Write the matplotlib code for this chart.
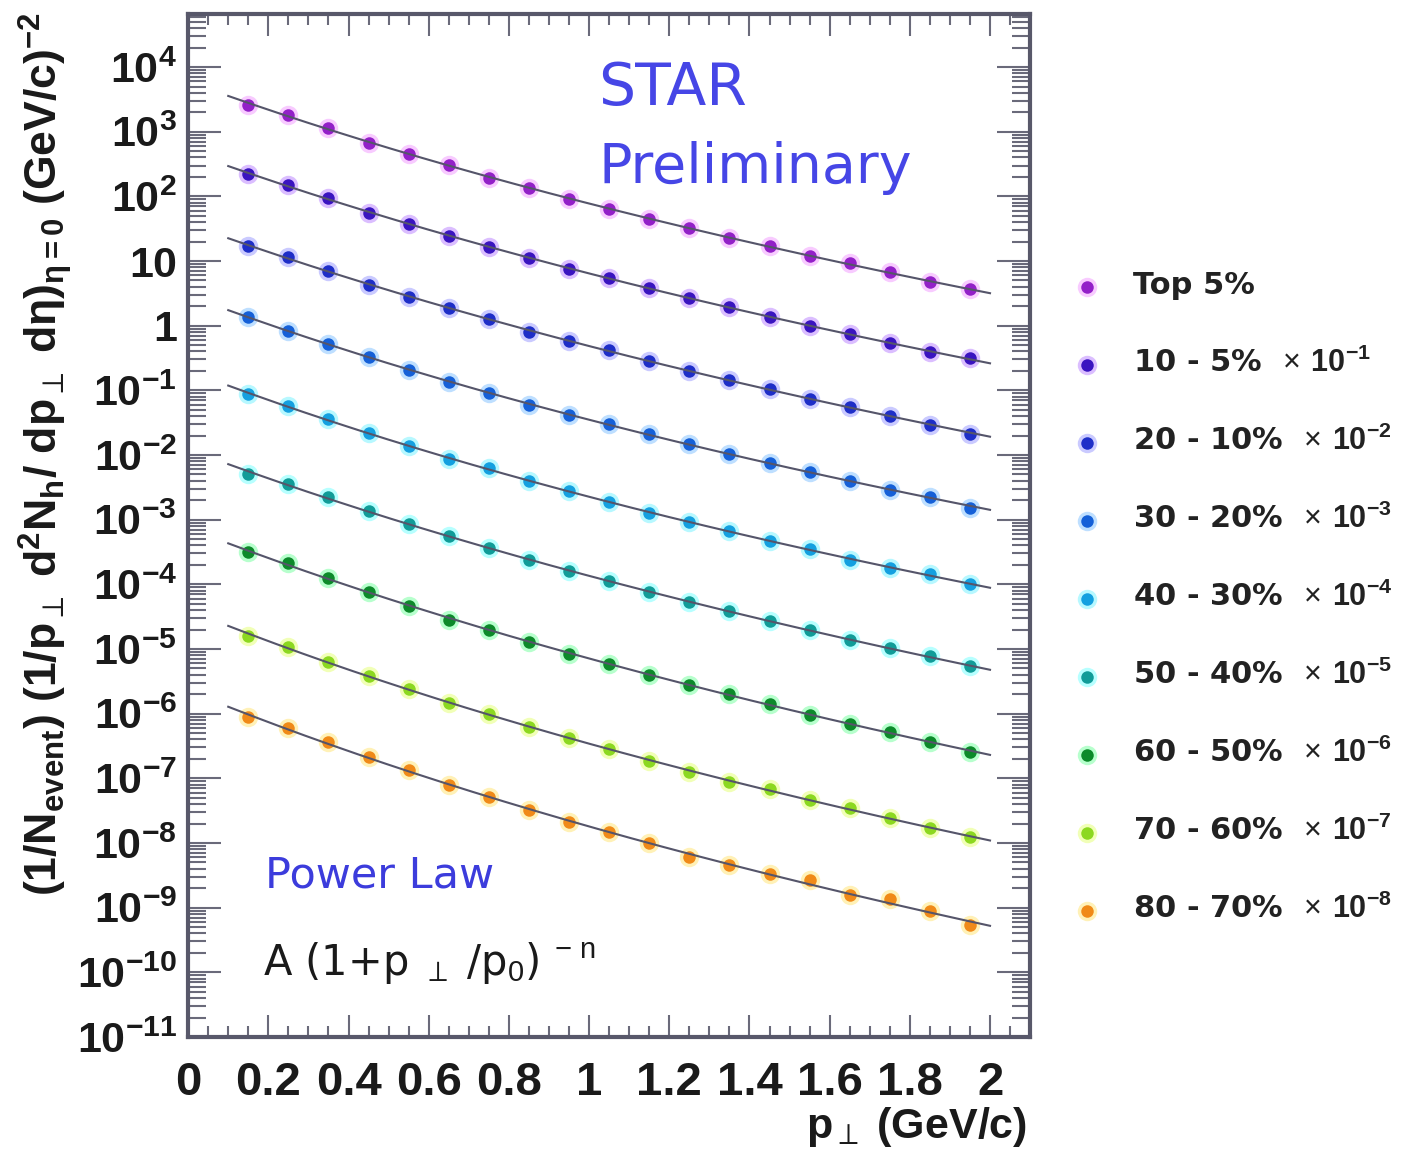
import numpy as np
import matplotlib.pyplot as plt
from matplotlib.lines import Line2D
from matplotlib.ticker import LogLocator, MultipleLocator, FuncFormatter, NullFormatter

plt.rcParams['font.family'] = ['Liberation Sans', 'DejaVu Sans']
plt.rcParams['mathtext.fontset'] = 'custom'
plt.rcParams['mathtext.rm'] = 'Liberation Sans'
plt.rcParams['mathtext.bf'] = 'Liberation Sans:bold'
plt.rcParams['mathtext.it'] = 'Liberation Sans:italic'

# transverse momentum bin centres (GeV/c)
pt = [0.15, 0.25, 0.35, 0.45, 0.55, 0.65, 0.75, 0.85, 0.95, 1.05,
      1.15, 1.25, 1.35, 1.45, 1.55, 1.65, 1.75, 1.85, 1.95]

# invariant yields per centrality class (before the display scale factor)
top5 = [2620, 1810, 1160, 680, 456, 304, 195, 134, 90.5, 63.4,
        45.0, 32.8, 22.9, 16.9, 11.9, 9.25, 6.71, 4.70, 3.66]
c10_5 = [2214, 1490, 931, 559, 373, 245, 167, 111, 75.7, 54.4,
         38.6, 27.0, 19.3, 13.6, 9.89, 7.36, 5.36, 3.90, 3.11]
c20_10 = [1713, 1141, 710, 428, 281, 187, 125, 80.7, 57.1, 41.6,
          28.4, 20.1, 14.6, 10.5, 7.47, 5.44, 4.04, 2.94, 2.14]
c30_20 = [1344, 837, 523, 323, 207, 136, 90.2, 60.1, 42.0, 29.9,
          20.9, 14.6, 10.4, 7.54, 5.49, 3.99, 2.90, 2.25, 1.54]
c40_30 = [867, 578, 361, 217, 137, 85.8, 62.2, 39.9, 27.3, 18.6,
          12.7, 9.24, 6.71, 4.60, 3.53, 2.39, 1.79, 1.45, 1.01]
c50_40 = [515, 351, 225, 135, 86.7, 55.6, 36.6, 23.9, 15.9, 11.1,
          7.52, 5.25, 3.90, 2.72, 1.95, 1.36, 1.03, 0.779, 0.545]
c60_50 = [314, 212, 126, 75.5, 47.0, 28.2, 19.4, 13.0, 8.49, 5.94,
          3.96, 2.76, 2.03, 1.42, 0.965, 0.693, 0.521, 0.365, 0.254]
c70_60 = [161, 109, 62.2, 38.8, 24.1, 14.4, 9.75, 6.16, 4.21, 2.87,
          1.87, 1.25, 0.892, 0.685, 0.463, 0.343, 0.240, 0.172, 0.125]
c80_70 = [87.6, 60.1, 35.9, 21.6, 13.4, 7.96, 5.10, 3.24, 2.13, 1.46,
          0.982, 0.611, 0.453, 0.336, 0.265, 0.155, 0.134, 0.0876, 0.0530]

series = [top5, c10_5, c20_10, c30_20, c40_30, c50_40, c60_50, c70_60, c80_70]
names = ['Top 5%', '10 - 5%', '20 - 10%', '30 - 20%', '40 - 30%',
         '50 - 40%', '60 - 50%', '70 - 60%', '80 - 70%']
scale_exp = [0, -1, -2, -3, -4, -5, -6, -7, -8]

core_colors = ['#9320c8', '#3a14c0', '#1e2ec8', '#1560d8', '#14a0e0',
               '#109c98', '#0c8a2a', '#8cd820', '#f08a18']
halo_colors = ['#f08cff', '#b070ff', '#8a8aff', '#70b8ff', '#60f0ff',
               '#60ffff', '#60ff90', '#e0ff60', '#ffe060']


def power_law_fit(x, y):
    # A (1 + pt/p0)^-n : linear in (ln A, n) for fixed p0, scan p0
    x = np.asarray(x)
    ly = np.log(np.asarray(y))
    best = None
    for p0 in np.linspace(0.3, 30, 600):
        X = np.column_stack([np.ones_like(x), -np.log1p(x / p0)])
        coef = np.linalg.lstsq(X, ly, rcond=None)[0]
        r = np.sum((X @ coef - ly) ** 2)
        if best is None or r < best[0]:
            best = (r, p0, coef)
    _, p0, (lnA, n) = best
    return np.exp(lnA), p0, n


fig = plt.figure(figsize=(14.04, 11.49), dpi=100)
ax = fig.add_axes([0.134, 0.0975, 0.5997, 0.8903])

xfit = np.linspace(0.1, 2.0, 300)
for vals, e, cc, hc in zip(series, scale_exp, core_colors, halo_colors):
    y = np.array(vals) * 10.0 ** e
    A, p0, n = power_law_fit(pt, y)
    ax.plot(pt, y, 'o', ms=14, color=hc, alpha=0.45, mec='none', zorder=2)
    ax.plot(pt, y, 'o', ms=9, color=cc, mec='none', zorder=3)
    ax.plot(xfit, A * (1 + xfit / p0) ** (-n), color='#55556a', lw=1.5, zorder=4)

ax.set_yscale('log')
ax.set_xlim(0, 2.1)
ax.set_ylim(1e-11, 10 ** 4.82)


def decade_label(v, pos):
    e = int(round(np.log10(v)))
    if e == 0:
        return '1'
    if e == 1:
        return '10'
    return r'$\mathbf{10^{%d}}$' % e


ax.yaxis.set_major_locator(LogLocator(base=10, numticks=40))
ax.yaxis.set_minor_locator(LogLocator(base=10, subs=np.arange(2, 10), numticks=40))
ax.yaxis.set_major_formatter(FuncFormatter(decade_label))
ax.yaxis.set_minor_formatter(NullFormatter())
ax.xaxis.set_major_locator(MultipleLocator(0.2))
ax.xaxis.set_minor_locator(MultipleLocator(0.05))
ax.xaxis.set_major_formatter(FuncFormatter(lambda v, p: '%g' % round(v, 1)))

frame = '#58586a'
for s in ax.spines.values():
    s.set_color(frame)
    s.set_linewidth(3)
ax.tick_params(which='both', direction='in', top=True, right=True,
               color='#6a6a7a', width=1.5)
ax.tick_params(axis='y', which='major', length=24, pad=8)
ax.tick_params(axis='y', which='minor', length=13)
ax.tick_params(axis='x', which='major', length=16, pad=17)
ax.tick_params(axis='x', which='minor', length=8)
for lab in ax.get_yticklabels():
    lab.set_fontsize(31)
    lab.set_fontweight('bold')
    lab.set_color('#1a1a1a')
for lab in ax.get_xticklabels():
    lab.set_fontsize(34)
    lab.set_fontweight('bold')
    lab.set_color('#1a1a1a')

fig.text(1027 / 1404, 1 - 1138 / 1149, r'$\mathbf{p}_{\perp}$ (GeV/c)',
         ha='right', va='baseline', fontsize=31, fontweight='bold', color='#1a1a1a')
fig.text(0.032, 1 - 12 / 1149,
         r'$\mathbf{(1/N_{event})\ (1/p}_{\perp}\mathbf{\ d^{2}N_{h}/\ dp}_{\perp}'
         r'\mathbf{\ d\eta)_{\eta=0}\ (GeV/c)^{-2}}$',
         rotation=90, ha='center', va='top', fontsize=32, color='#1a1a1a')

blue = '#4646e6'
fig.text(598 / 1404, 1 - 105 / 1149, 'STAR', fontsize=42, color=blue,
         family='DejaVu Sans', va='baseline')
fig.text(598 / 1404, 1 - 183 / 1149, 'Preliminary', fontsize=40, color=blue,
         family='DejaVu Sans', va='baseline')
fig.text(265 / 1404, 1 - 887 / 1149, 'Power Law', fontsize=31, color='#3c3cdc',
         family='DejaVu Sans', va='baseline')
fig.text(263 / 1404, 1 - 975 / 1149, r'A (1+p $_{\perp}$ /p$_{0}$) $^{-\ \mathrm{n}}$',
         fontsize=30, color='#1a1a1a', family='DejaVu Sans', va='baseline')

# legend column to the right of the frame
for i, (nm, e, cc, hc) in enumerate(zip(names, scale_exp, core_colors, halo_colors)):
    yrow = 1 - (287 + 78 * i) / 1149
    fig.add_artist(Line2D([1087 / 1404], [yrow], transform=fig.transFigure,
                          marker='o', ms=14, color=hc, alpha=0.45, mec='none'))
    fig.add_artist(Line2D([1087 / 1404], [yrow], transform=fig.transFigure,
                          marker='o', ms=9, color=cc, mec='none'))
    label = nm if e == 0 else nm + r'  $\times$ $\mathbf{10^{%d}}$' % e
    fig.text(1133 / 1404, yrow - 7 / 1149, label, fontsize=22, fontweight='bold',
             family='DejaVu Sans', color='#222222', va='baseline')

fig.savefig('out.png', dpi=100)
